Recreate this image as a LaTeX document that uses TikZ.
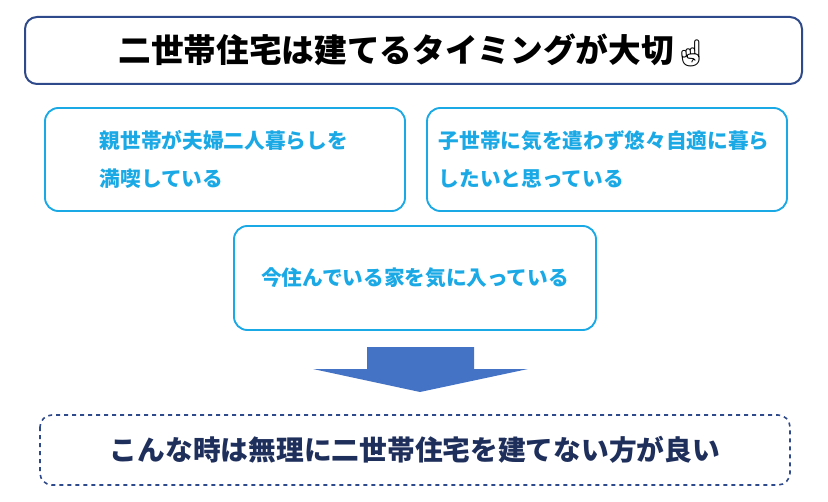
\documentclass[tikz,border=0pt]{standalone}
\usepackage{fontspec}
\setmainfont{Noto Sans CJK JP}
\newfontfamily\emojifont{Noto Emoji}
\usetikzlibrary{positioning}
\definecolor{boxcyan}{HTML}{1BA9E6}
\definecolor{navy}{HTML}{2F4A8A}
\definecolor{arrowblue}{HTML}{4472C4}
\definecolor{textnavy}{HTML}{1F2F5C}

\begin{document}
\begin{tikzpicture}[x=0.75pt,y=-0.75pt]
  \tikzstyle{titlebox}=[draw=navy,line width=1.5pt,rounded corners=9pt]
  \tikzstyle{reason}=[draw=boxcyan,line width=1.4pt,rounded corners=10pt]
  \tikzstyle{reasontext}=[text=boxcyan,font=\bfseries\fontsize{15.5}{28.5}\selectfont,align=left,anchor=west]
  \tikzstyle{resultbox}=[draw=navy,line width=1.2pt,dashed,rounded corners=9pt]

  \useasboundingbox (0,0) rectangle (828,502);

  % title
  \draw[titlebox] (25,17) rectangle (802,84);
  \node (title) at (413,50) {\bfseries\fontsize{24.5}{26}\selectfont 二世帯住宅は建てるタイミングが大切{\emojifont\fontsize{20}{20}\selectfont ☝}};

  % reasons
  \draw[reason] (45,108) rectangle (405,211);
  \node[reasontext] (parents) at (95,159) {親世帯が夫婦二人暮らしを\\満喫している};
  \draw[reason] (427,108) rectangle (787,211);
  \node[reasontext] (child) at (434,159) {子世帯に気を遣わず悠々自適に暮ら\\したいと思っている};
  \draw[reason] (234,226) rectangle (596,330);
  \node[reasontext,anchor=center] (house) at (415,278) {今住んでいる家を気に入っている};

  % arrow
  \fill[arrowblue] (367,347) -- (474,347) -- (474,369) -- (528,369) -- (420,392)
    -- (313,369) -- (367,369) -- cycle;

  % result
  \draw[resultbox] (40,415) rectangle (790,485);
  \node[text=textnavy] (result) at (415,450) {\bfseries\fontsize{20.8}{24}\selectfont こんな時は無理に二世帯住宅を建てない方が良い};
\end{tikzpicture}
\end{document}
